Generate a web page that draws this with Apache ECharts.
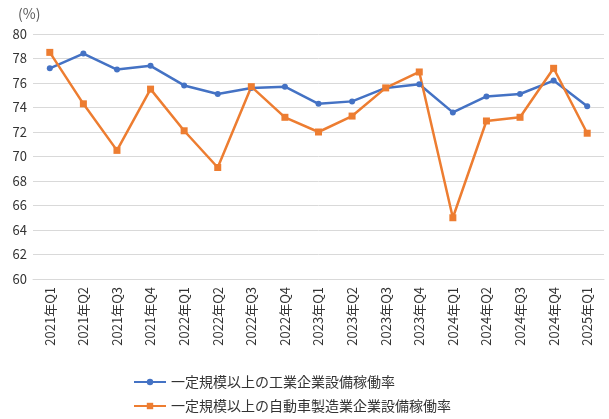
<!DOCTYPE html>
<html><head><meta charset="utf-8">
<script src="https://cdn.jsdelivr.net/npm/echarts@6/dist/echarts.min.js"></script>
<style>html,body{margin:0;padding:0;background:#fff}#c{width:609px;height:419px}</style>
</head><body><div id="c"></div>
<script>
const categories=['2021年Q1','2021年Q2','2021年Q3','2021年Q4','2022年Q1','2022年Q2','2022年Q3','2022年Q4','2023年Q1','2023年Q2','2023年Q3','2023年Q4','2024年Q1','2024年Q2','2024年Q3','2024年Q4','2025年Q1'];
const industry=[77.2,78.4,77.1,77.4,75.8,75.1,75.6,75.7,74.3,74.5,75.6,75.9,73.6,74.9,75.1,76.2,74.1];
const auto=[78.5,74.3,70.5,75.5,72.1,69.1,75.7,73.2,72.0,73.3,75.6,76.9,65.0,72.9,73.2,77.2,71.9];
const names=['一定規模以上の工業企業設備稼働率','一定規模以上の自動車製造業企業設備稼働率'];
const font='"Noto Sans CJK JP"';
const chart=echarts.init(document.getElementById('c'));
chart.setOption({
 animation:false,
 textStyle:{fontFamily:font},
 color:['#4472C4','#ED7D31'],
 grid:{left:33,right:5,top:34,bottom:140},
 graphic:[{type:'text',left:18,top:7,style:{text:'(%)',fontSize:14,fill:'#595959',fontFamily:font}}],
 legend:{orient:'vertical',left:128,top:370,itemGap:10,itemWidth:32,itemHeight:8,textStyle:{fontSize:14,color:'#333'},data:names},
 xAxis:{type:'category',data:categories,boundaryGap:true,axisTick:{show:false},axisLine:{lineStyle:{color:'#d9d9d9'}},
  axisLabel:{rotate:90,color:'#333',fontSize:13,interval:0}},
 yAxis:{type:'value',min:60,max:80,interval:2,axisLabel:{color:'#333',fontSize:13,margin:6},
  splitLine:{lineStyle:{color:'#d9d9d9'}}},
 series:[
  {name:names[0],type:'line',data:industry,symbol:'circle',symbolSize:6,lineStyle:{width:2.5}},
  {name:names[1],type:'line',data:auto,symbol:'rect',symbolSize:7,lineStyle:{width:2.5}}
 ]
});
</script></body></html>
